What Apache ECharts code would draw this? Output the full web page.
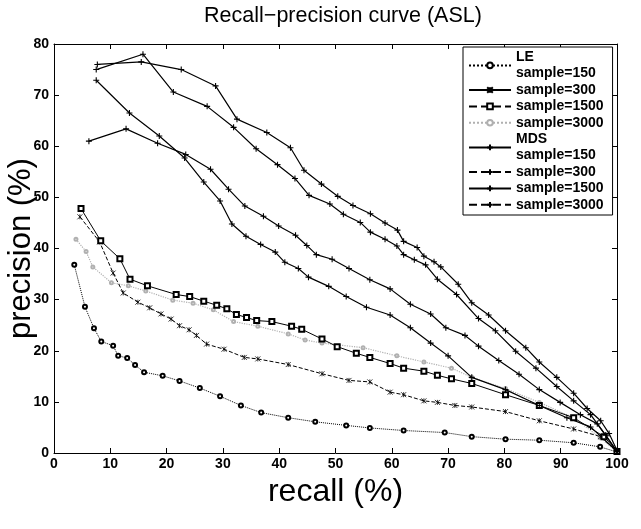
<!DOCTYPE html>
<html>
<head>
<meta charset="utf-8">
<script src="https://cdn.jsdelivr.net/npm/echarts@6/dist/echarts.min.js"></script>
<style>html,body{margin:0;padding:0;background:#fff}#c{width:641px;height:529px}</style>
</head>
<body>
<div id="c"></div>
<script>
// ---- data ----
const xTicks = [0,10,20,30,40,50,60,70,80,90,100];
const yTicks = [0,10,20,30,40,50,60,70,80];

const le150X = [3.6,5.5,7.1,8.4,10.5,11.4,13.0,14.4,16.0,19.3,22.3,25.9,29.5,33.2,36.8,41.6,46.4,51.9,56.1,62.1,69.4,74.2,80.2,86.2,92.3,97.0,100];
const le150Y = [36.8,28.6,24.4,21.8,21.0,19.0,18.6,17.2,15.8,15.1,14.1,12.7,11.1,9.3,7.9,6.9,6.1,5.4,4.9,4.4,4.0,3.2,2.7,2.5,2.0,1.2,0.2];

const le300X = [4.6,8.1,10.5,12.3,14.9,17.0,19.0,20.8,22.3,24.0,25.3,27.1,30.2,33.8,36.2,41.6,47.6,52.4,56.1,59.7,62.1,65.7,68.1,71.2,74.2,80.2,86.2,92.3,97.1,100];
const le300Y = [46.2,41.3,35.2,31.3,29.5,28.4,27.2,26.2,24.9,24.1,23.0,21.3,20.3,18.7,18.4,17.3,15.5,14.2,13.9,11.9,11.4,10.2,9.9,9.3,9.0,8.1,6.3,4.7,3.2,0.3];

const le1500X = [4.8,8.3,11.7,13.5,16.6,21.7,24.1,26.6,28.9,30.7,32.4,34.2,36.0,38.7,42.2,44.0,47.6,50.3,53.7,56.1,59.7,62.1,65.7,68.1,70.6,74.2,80.2,86.2,92.3,97.7,100];
const le1500Y = [47.8,41.5,38.0,34.0,32.7,31.0,30.6,29.7,28.9,28.2,27.1,26.5,25.9,25.7,24.8,24.2,22.3,20.8,19.5,18.7,17.5,16.6,16.0,15.2,14.5,13.6,11.4,9.3,6.9,3.2,0.3];

const le3000X = [3.9,5.7,6.9,10.2,13.2,16.3,21.1,24.7,28.3,31.9,36.2,41.6,44.6,47.6,54.9,60.9,65.7,70.6,74.2,80.2,86.2,92.3,97.0,100];
const le3000Y = [41.8,39.4,36.4,33.3,32.7,31.7,29.9,29.3,28.0,25.7,24.8,23.3,22.1,21.5,20.6,19.0,17.8,16.6,14.8,12.6,9.9,6.9,3.0,0.2];

const mds150X = [7.5,13.4,18.7,23.2,26.6,29.5,31.6,34.1,36.7,39.3,41.0,43.4,45.2,48.8,51.9,55.5,59.7,63.3,66.9,70.0,74.2,80.2,86.2,91.1,95.3,100];
const mds150Y = [72.9,66.5,62.0,57.7,53.0,49.3,44.8,42.4,40.8,39.3,37.3,36.1,34.4,32.6,30.6,28.5,27.0,24.5,21.5,19.0,14.8,12.4,9.3,6.9,5.1,0.3];

const mds300X = [6.2,12.8,18.4,23.4,27.8,31.0,33.9,37.2,39.9,42.9,44.9,46.6,49.4,52.4,56.1,59.7,63.3,66.9,69.6,73.0,75.4,79.0,82.6,86.2,89.9,93.5,96.5,100];
const mds300Y = [61.0,63.4,60.6,58.4,55.5,51.6,48.3,46.3,44.4,42.6,40.6,38.8,37.9,36.1,33.9,32.1,29.1,27.2,24.5,23.0,20.9,18.1,15.4,12.4,9.9,7.5,5.7,0.3];

const mds1500X = [7.5,15.8,21.2,27.2,31.9,35.9,39.7,42.8,45.3,49.0,51.4,54.4,56.2,58.8,60.9,62.1,64.0,66.0,68.1,71.5,75.4,78.4,82.0,85.6,89.3,92.3,95.3,98.0,100];
const mds1500Y = [75.0,78.0,70.6,67.8,63.7,59.5,56.4,53.7,50.4,48.7,46.7,45.1,43.2,41.8,40.5,38.8,37.8,36.8,34.0,31.0,26.3,23.9,19.9,16.6,13.0,10.2,7.5,3.5,0.3];

const mds3000X = [7.7,15.5,22.6,28.7,32.5,37.8,42.0,44.4,47.5,50.4,53.1,56.2,58.8,61.0,62.1,64.5,65.7,67.5,68.7,71.8,74.2,77.2,80.2,83.8,86.2,89.3,92.3,94.7,97.1,98.6,100];
const mds3000Y = [76.0,76.5,75.0,71.8,65.3,62.7,59.7,55.3,52.6,50.2,48.4,46.8,45.0,43.6,41.4,40.2,38.5,37.4,36.4,33.0,29.4,27.0,23.9,20.6,17.8,14.8,11.7,8.7,6.3,3.8,0.5];

const seriesNames = ['LE150','LE300','LE1500','LE3000','MDS150','MDS300','MDS1500','MDS3000'];
const legendLabels = ['LE\nsample=150','sample=300','sample=1500','sample=3000','MDS\nsample=150','sample=300','sample=1500','sample=3000'];

// ---- build chart ----
const pairs = (xs, ys) => xs.map((x, i) => [x, ys[i]]);
const FONT = 'Liberation Sans, Arial, Helvetica, sans-serif';
const PLUS = 'path://M0,5L10,5M5,0L5,10';
const CROSS = 'path://M0,0L10,10M10,0L0,10M5,0L5,10';

function mk(name, xs, ys, o) {
  return {
    name, type: 'line', data: pairs(xs, ys),
    xAxisIndex: 0, yAxisIndex: 0,
    symbol: o.symbol, symbolSize: o.size, showSymbol: true,
    lineStyle: { color: o.color || '#000', width: o.width || 1, type: o.type || 'solid' },
    itemStyle: { color: o.fill || (o.color || '#000'), borderColor: o.color || '#000', borderWidth: o.bw || 1 },
    animation: false, z: o.z || 2
  };
}

const series = [
  mk('LE150', le150X, le150Y, { symbol: 'emptyCircle', size: 4, type: 'dotted', width: 1, bw: 0.8 }),
  mk('LE300', le300X, le300Y, { symbol: CROSS, size: 5, type: 'dashed', width: 1, bw: 0.8 }),
  mk('LE1500', le1500X, le1500Y, { symbol: 'emptyRect', size: 5, type: 'solid', width: 1, bw: 0.8 }),
  mk('LE3000', le3000X, le3000Y, { symbol: 'emptyCircle', size: 3, type: 'dotted', width: 1.2, color: '#b0b0b0', bw: 0.8, z: 1 }),
  mk('MDS150', mds150X, mds150Y, { symbol: PLUS, size: 6, width: 1.2, bw: 1.1 }),
  mk('MDS300', mds300X, mds300Y, { symbol: PLUS, size: 6, width: 1.2, bw: 1.1 }),
  mk('MDS1500', mds1500X, mds1500Y, { symbol: PLUS, size: 6, width: 1.2, bw: 1.1 }),
  mk('MDS3000', mds3000X, mds3000Y, { symbol: PLUS, size: 6, width: 1.2, bw: 1.1 })
];

const legendLineTypes = ['dotted','solid','dashed','dotted','solid','dashed','solid','dashed'];

const tickLabel = { fontFamily: FONT, fontWeight: 'bold', fontSize: 14, color: '#000' };
const axisCommon = {
  type: 'value', splitLine: { show: false },
  axisLine: { show: true, onZero: false, lineStyle: { color: '#000', width: 1 } },
  axisTick: { show: true, inside: true, length: 5, lineStyle: { color: '#000' } }
};

const chart = echarts.init(document.getElementById('c'), null, { renderer: 'canvas' });
chart.setOption({
  backgroundColor: '#fff',
  animation: false,
  title: {
    text: 'Recall\u2212precision curve (ASL)',
    left: 338, top: 0, textAlign: 'center',
    textStyle: { fontFamily: FONT, fontSize: 21.5, fontWeight: 'normal', color: '#000' }
  },
  grid: { left: 54, right: 24, top: 44, bottom: 76, containLabel: false, outerBoundsMode: 'none' },
  legend: {
    orient: 'vertical', left: 463, top: 47,
    data: seriesNames.map((n, i) => ({ name: n, lineStyle: { type: legendLineTypes[i] } })),
    formatter: (n) => legendLabels[seriesNames.indexOf(n)],
    itemWidth: 42, itemHeight: 7, itemGap: 0,
    padding: [2, 9, 2, 5],
    borderColor: '#000', borderWidth: 1, backgroundColor: '#fff',
    selectedMode: false,
    textStyle: { fontFamily: FONT, fontWeight: 'bold', fontSize: 14, color: '#000', lineHeight: 16.4 }
  },
  xAxis: [
    Object.assign({}, axisCommon, {
      position: 'bottom', min: xTicks[0], max: xTicks[xTicks.length - 1], interval: 10,
      axisLabel: Object.assign({ margin: 4 }, tickLabel),
      name: 'recall (%)', nameLocation: 'middle', nameGap: 23, nameMoveOverlap: false,
      nameTextStyle: { fontFamily: FONT, fontSize: 32, color: '#000' }
    }),
    Object.assign({}, axisCommon, {
      position: 'top', min: xTicks[0], max: xTicks[xTicks.length - 1], interval: 10,
      axisLabel: { show: false }
    })
  ],
  yAxis: [
    Object.assign({}, axisCommon, {
      position: 'left', min: yTicks[0], max: yTicks[yTicks.length - 1], interval: 10,
      axisLabel: Object.assign({ margin: 5 }, tickLabel),
      name: 'precision (%)', nameLocation: 'middle', nameGap: 17, nameMoveOverlap: false,
      nameTextStyle: { fontFamily: FONT, fontSize: 31, color: '#000' }
    }),
    Object.assign({}, axisCommon, {
      position: 'right', min: yTicks[0], max: yTicks[yTicks.length - 1], interval: 10,
      axisLabel: { show: false }
    })
  ],
  series
});
</script>
</body>
</html>
